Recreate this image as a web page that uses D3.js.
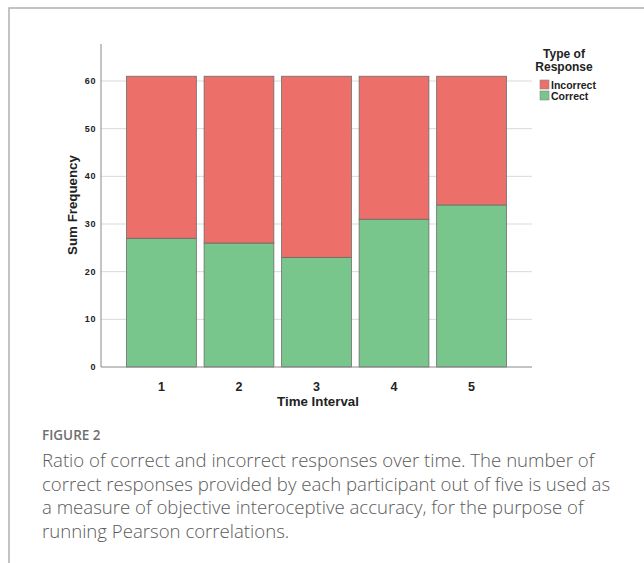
<!DOCTYPE html>
<html>
<head>
<meta charset="utf-8">
<script src="https://cdn.jsdelivr.net/npm/d3@7"></script>
<style>
  body { margin: 0; background: #fff; }
  svg { display: block; }
</style>
</head>
<body>
<svg id="chart" width="644" height="563"></svg>
<script>
// data
let intervals = ["1", "2", "3", "4", "5"];
let correct = [27, 26, 23, 31, 34];
let incorrect = [34, 35, 38, 30, 27];
let yTicks = [0, 10, 20, 30, 40, 50, 60];
let seriesNames = ["Incorrect", "Correct"];
let seriesColors = ["#ec7069", "#79c68d"];
let legendTitle = ["Type of", "Response"];
let captionLines = [
    "Ratio of correct and incorrect responses over time. The number of",
    "correct responses provided by each participant out of five is used as",
    "a measure of objective interoceptive accuracy, for the purpose of",
    "running Pearson correlations."
];

let svg = d3.select("#chart");
let chartFont = "Liberation Sans, Arial, sans-serif";

// figure frame
svg.append("path")
    .attr("d", "M9,563 L9,8 L644,8")
    .attr("fill", "none")
    .attr("stroke", "#b0b0b0")
    .attr("stroke-width", 1.5);

let xScale = d3.scaleBand()
    .domain(intervals)
    .range([101, 532])
    .paddingInner(0.1)
    .paddingOuter(0.33);

let yScale = d3.scaleLinear()
    .domain([0, 60])
    .range([367, 81]);

// gridlines
svg.selectAll(".grid")
    .data(yTicks.slice(1))
    .enter()
    .append("line")
    .attr("x1", 101)
    .attr("x2", 532)
    .attr("y1", d => yScale(d))
    .attr("y2", d => yScale(d))
    .attr("stroke", "#d9d9d9")
    .attr("stroke-width", 1);

// stacked bars
let rows = intervals.map((k, i) => ({ key: k, Correct: correct[i], Incorrect: incorrect[i] }));
let stacked = d3.stack().keys(["Correct", "Incorrect"])(rows);
let colorFor = { "Incorrect": seriesColors[0], "Correct": seriesColors[1] };

svg.selectAll(".layer")
    .data(stacked)
    .enter()
    .append("g")
    .attr("fill", d => colorFor[d.key])
    .selectAll("rect")
    .data(d => d)
    .enter()
    .append("rect")
    .attr("x", d => xScale(d.data.key))
    .attr("y", d => yScale(d[1]))
    .attr("width", xScale.bandwidth())
    .attr("height", d => yScale(d[0]) - yScale(d[1]))
    .attr("stroke", "#6b6b6b")
    .attr("stroke-width", 0.8);

// y axis
svg.append("line")
    .attr("x1", 101).attr("x2", 101)
    .attr("y1", 44).attr("y2", 367)
    .attr("stroke", "#888").attr("stroke-width", 1);

svg.selectAll(".ytick")
    .data(yTicks)
    .enter()
    .append("text")
    .attr("x", 96)
    .attr("y", d => yScale(d) + 3)
    .text(d => d)
    .style("font-family", chartFont)
    .style("font-weight", "bold")
    .style("font-size", "9px")
    .style("letter-spacing", "0.6px")
    .style("fill", "#222")
    .style("text-anchor", "end");

svg.append("text")
    .attr("transform", "translate(77,205) rotate(-90)")
    .text("Sum Frequency")
    .style("font-family", chartFont)
    .style("font-weight", "bold")
    .style("font-size", "13.3px")
    .style("fill", "#222")
    .style("text-anchor", "middle");

// x axis
svg.append("line")
    .attr("x1", 101).attr("x2", 532)
    .attr("y1", 367).attr("y2", 367)
    .attr("stroke", "#888").attr("stroke-width", 1);

svg.selectAll(".xtick")
    .data(intervals)
    .enter()
    .append("text")
    .attr("x", d => xScale(d) + xScale.bandwidth() / 2)
    .attr("y", 391)
    .text(d => d)
    .style("font-family", chartFont)
    .style("font-weight", "bold")
    .style("font-size", "12.5px")
    .style("fill", "#222")
    .style("text-anchor", "middle");

svg.append("text")
    .attr("x", 318)
    .attr("y", 406)
    .text("Time Interval")
    .style("font-family", chartFont)
    .style("font-weight", "bold")
    .style("font-size", "13.3px")
    .style("fill", "#222")
    .style("text-anchor", "middle");

// legend
svg.selectAll(".legendTitle")
    .data(legendTitle)
    .enter()
    .append("text")
    .attr("x", 564)
    .attr("y", (d, i) => 58 + i * 13)
    .text(d => d)
    .style("font-family", chartFont)
    .style("font-weight", "bold")
    .style("font-size", "12px")
    .style("fill", "#222")
    .style("text-anchor", "middle");

let legend = svg.selectAll(".legendItem")
    .data(seriesNames)
    .enter()
    .append("g")
    .attr("transform", (d, i) => "translate(540," + (80 + i * 11) + ")");
legend.append("rect")
    .attr("width", 9)
    .attr("height", 9)
    .attr("fill", (d, i) => seriesColors[i])
    .attr("stroke", "#888")
    .attr("stroke-width", 0.6);
legend.append("text")
    .attr("x", 11)
    .attr("y", 9)
    .text(d => d)
    .style("font-family", chartFont)
    .style("font-weight", "bold")
    .style("font-size", "10.5px")
    .style("fill", "#222");

// caption
svg.append("text")
    .attr("x", 42).attr("y", 440)
    .text("FIGURE 2")
    .style("font-family", "Open Sans, sans-serif")
    .style("font-weight", 600)
    .style("font-size", "13.5px")
    .style("fill", "#6f6f6f");

svg.selectAll(".caption")
    .data(captionLines)
    .enter()
    .append("text")
    .attr("x", 42)
    .attr("y", (d, i) => 467 + i * 23.5)
    .text(d => d)
    .style("font-family", "Open Sans, sans-serif")
    .style("font-weight", 300)
    .style("font-size", "18.6px")
    .style("fill", "#5a5a5a");
</script>
</body>
</html>
